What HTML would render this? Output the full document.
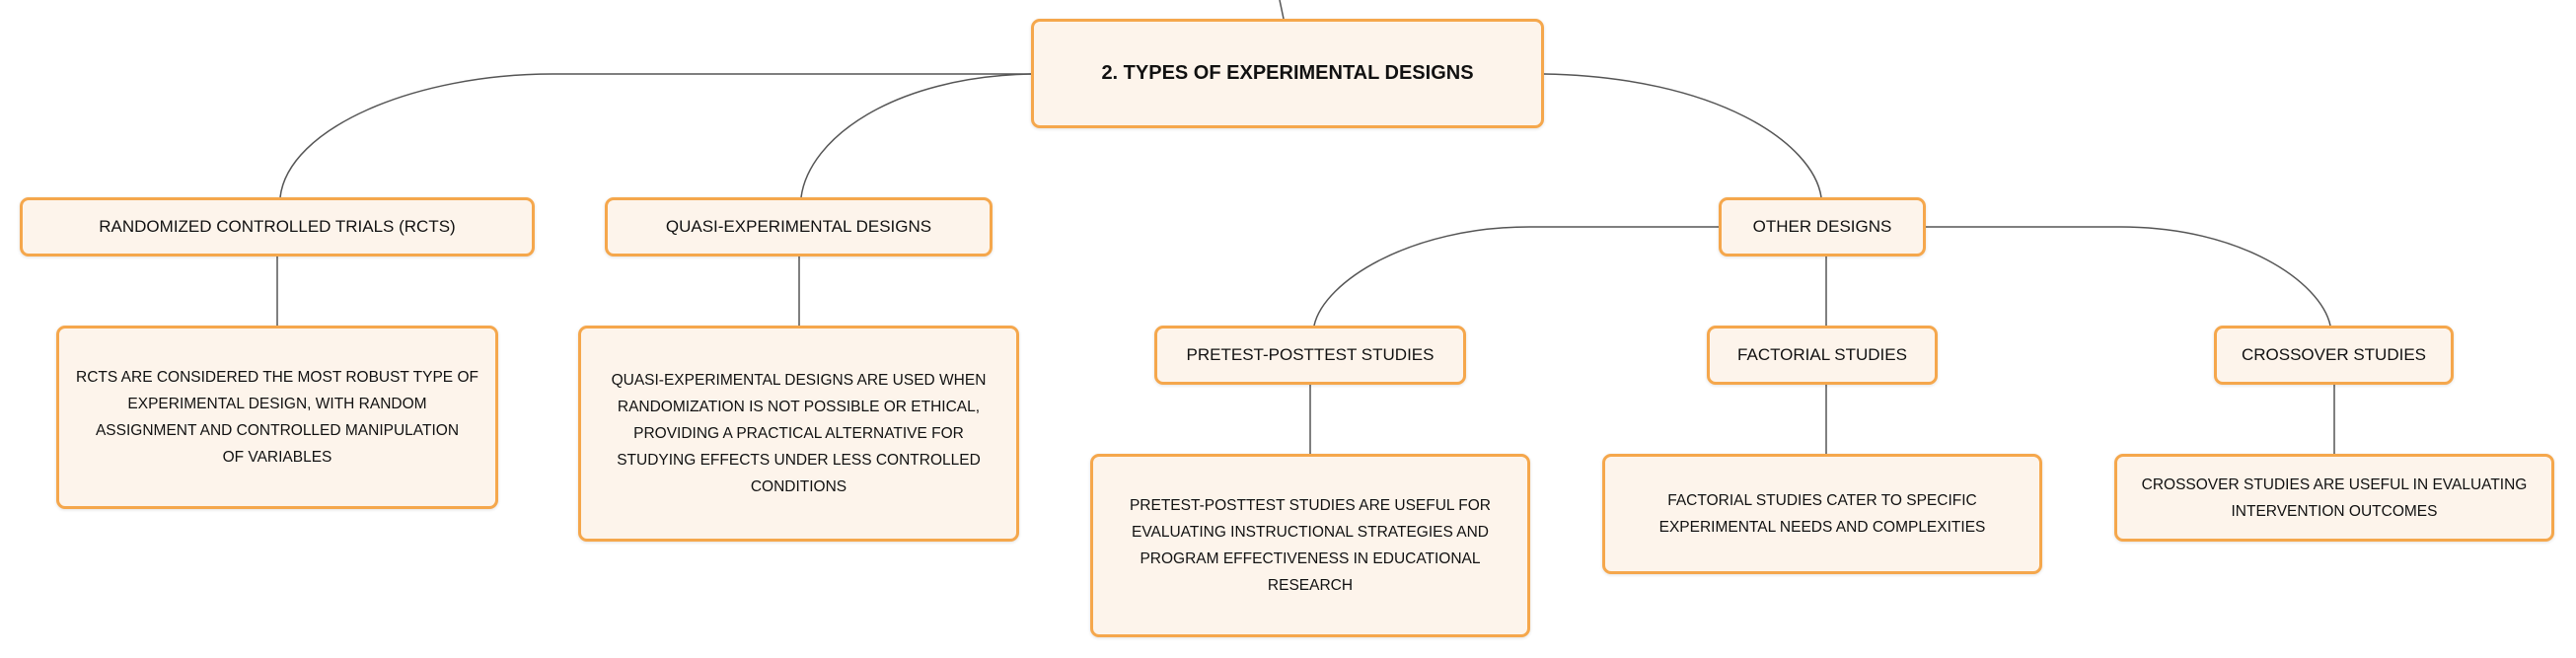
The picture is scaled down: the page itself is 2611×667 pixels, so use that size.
<!DOCTYPE html>
<html><head><meta charset="utf-8"><style>
html,body{margin:0;padding:0;background:#fff;}
body{width:2611px;height:667px;position:relative;overflow:hidden;font-family:"Liberation Sans",sans-serif;color:#111;}
.b{position:absolute;box-sizing:border-box;background:#fdf4eb;border:3px solid #f5a74c;border-radius:9px;display:flex;align-items:center;justify-content:center;text-align:center;box-shadow:0 1px 3px rgba(0,0,0,0.12);}
.t{font-size:17px;}
.d{font-size:15.5px;line-height:27px;white-space:nowrap;}
.r{font-size:20px;font-weight:bold;}
svg{position:absolute;left:0;top:0;}
</style></head><body>
<svg width="2611" height="667" fill="none" stroke="#555" stroke-width="1.5">
<path d="M1297 0 L1301 19"/>
<path d="M1045 75 H560 C420 75 292 130 284 200"/>
<path d="M1045 75 C905 78 820 140 812 200"/>
<path d="M1565 75 C1740 78 1838 145 1846 200"/>
<path d="M281 260 V330"/>
<path d="M810 260 V330"/>
<path d="M1742 230 H1550 C1430 230 1342 285 1332 330"/>
<path d="M1952 230 H2150 C2270 230 2352 285 2362 330"/>
<path d="M1851 260 V330"/>
<path d="M1328 390 V460"/>
<path d="M1851 390 V460"/>
<path d="M2366 390 V460"/>
</svg>
<div class="b r" style="left:1045px;top:19px;width:520px;height:111px;">2. TYPES OF EXPERIMENTAL DESIGNS</div>
<div class="b t" style="left:20px;top:200px;width:522px;height:60px;">RANDOMIZED CONTROLLED TRIALS (RCTS)</div>
<div class="b t" style="left:613px;top:200px;width:393px;height:60px;">QUASI-EXPERIMENTAL DESIGNS</div>
<div class="b t" style="left:1742px;top:200px;width:210px;height:60px;">OTHER DESIGNS</div>
<div class="b d" style="left:57px;top:330px;width:448px;height:186px;"><div>RCTS ARE CONSIDERED THE MOST ROBUST TYPE OF<br>EXPERIMENTAL DESIGN, WITH RANDOM<br>ASSIGNMENT AND CONTROLLED MANIPULATION<br>OF VARIABLES</div></div>
<div class="b d" style="left:586px;top:330px;width:447px;height:219px;"><div>QUASI-EXPERIMENTAL DESIGNS ARE USED WHEN<br>RANDOMIZATION IS NOT POSSIBLE OR ETHICAL,<br>PROVIDING A PRACTICAL ALTERNATIVE FOR<br>STUDYING EFFECTS UNDER LESS CONTROLLED<br>CONDITIONS</div></div>
<div class="b t" style="left:1170px;top:330px;width:316px;height:60px;">PRETEST-POSTTEST STUDIES</div>
<div class="b t" style="left:1730px;top:330px;width:234px;height:60px;">FACTORIAL STUDIES</div>
<div class="b t" style="left:2244px;top:330px;width:243px;height:60px;">CROSSOVER STUDIES</div>
<div class="b d" style="left:1105px;top:460px;width:446px;height:186px;"><div>PRETEST-POSTTEST STUDIES ARE USEFUL FOR<br>EVALUATING INSTRUCTIONAL STRATEGIES AND<br>PROGRAM EFFECTIVENESS IN EDUCATIONAL<br>RESEARCH</div></div>
<div class="b d" style="left:1624px;top:460px;width:446px;height:122px;"><div>FACTORIAL STUDIES CATER TO SPECIFIC<br>EXPERIMENTAL NEEDS AND COMPLEXITIES</div></div>
<div class="b d" style="left:2143px;top:460px;width:446px;height:89px;"><div>CROSSOVER STUDIES ARE USEFUL IN EVALUATING<br>INTERVENTION OUTCOMES</div></div>
</body></html>
